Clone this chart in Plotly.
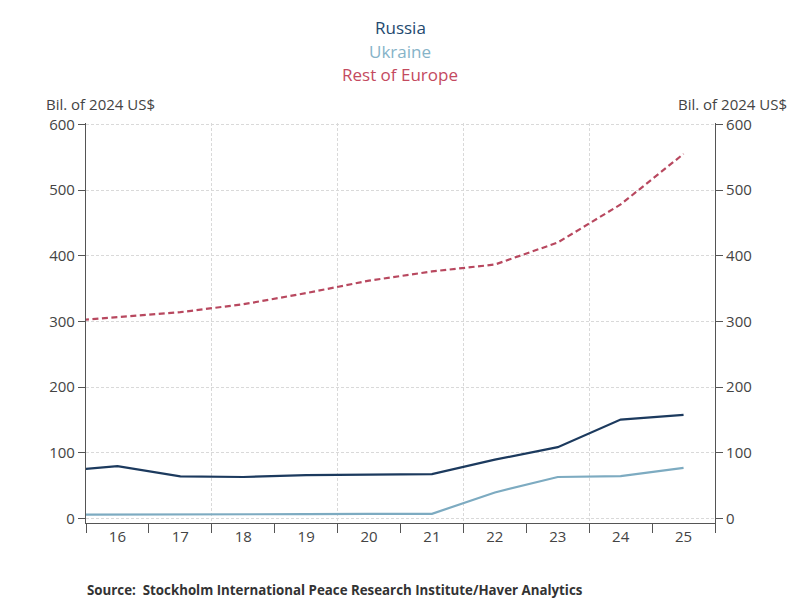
import plotly.graph_objects as go

years = [2015, 2016, 2017, 2018, 2019, 2020, 2021, 2022, 2023, 2024, 2025]
year_labels = ["16", "17", "18", "19", "20", "21", "22", "23", "24", "25"]

russia = [71.5, 79.5, 64, 63, 66, 67, 67.5, 89.5, 108.5, 150.5, 157.5]
ukraine = [5.5, 5.5, 5.5, 5.5, 6.5, 7, 7, 39.5, 63, 64.5, 77]
rest_of_europe = [299, 306, 314, 326, 343, 362, 376, 386.5, 420, 478, 555]

series_names = ["Russia", "Ukraine", "Rest of Europe"]
line_colors = ["#1c3a5e", "#7dabc1", "#b8485f"]
title_colors = ["#24496f", "#86b3c8", "#c44a5f"]

FONT = "Open Sans"
AXIS_COLOR = "#555555"
TEXT_COLOR = "#444444"
GRID_COLOR = "#d9d9d9"

# page body has an 8px margin, so lay things out in screen pixels and shift
OFF = 8
W, H = 800, 600
PLOT_L, PLOT_R, PLOT_T, PLOT_B = 86, 715, 123, 523  # screen pixels

margin = dict(l=PLOT_L - OFF, r=W - (PLOT_R - OFF), t=PLOT_T - OFF, b=H - (PLOT_B - OFF))
plot_w = PLOT_R - PLOT_L
plot_h = PLOT_B - PLOT_T


def px_x(sx):
    return (sx - PLOT_L) / plot_w


def px_y(sy):
    return (PLOT_B - sy) / plot_h


fig = go.Figure()

fig.add_trace(go.Scatter(x=years, y=russia, name="Russia", mode="lines",
                         line=dict(color=line_colors[0], width=2.2)))
fig.add_trace(go.Scatter(x=years, y=ukraine, name="Ukraine", mode="lines",
                         line=dict(color=line_colors[1], width=2.2)))
fig.add_trace(go.Scatter(x=years, y=rest_of_europe, name="Rest of Europe", mode="lines",
                         line=dict(color=line_colors[2], width=2.2, dash="6px,3.5px")))

# invisible trace so the overlay axes (right y axis, vertical grid) get drawn
fig.add_trace(go.Scatter(x=years, y=russia, xaxis="x2", yaxis="y2", mode="lines",
                         line=dict(color="rgba(0,0,0,0)"), hoverinfo="skip", showlegend=False))

x_range = [2015.5, 2025.5]
y_range = [-7, 602]

fig.update_layout(
    width=W, height=H,
    margin=margin,
    paper_bgcolor="white", plot_bgcolor="white",
    showlegend=False,
    font=dict(family=FONT, size=14, color=TEXT_COLOR),
    xaxis=dict(
        range=x_range, tickmode="array", tickvals=years[1:], ticktext=year_labels,
        ticks="", showgrid=False, zeroline=False,
        showline=True, linecolor=AXIS_COLOR, linewidth=1.2,
        tickfont=dict(size=15, color=TEXT_COLOR),
        minor=dict(tickmode="linear", tick0=2015.5, dtick=1, ticks="outside",
                   ticklen=9, tickcolor=AXIS_COLOR, tickwidth=1.2, showgrid=False),
    ),
    xaxis2=dict(
        range=x_range, overlaying="x", anchor="y", tickmode="linear", tick0=2015.5, dtick=2,
        showgrid=True, gridcolor=GRID_COLOR, griddash="3px,2px", gridwidth=1,
        showticklabels=False, ticks="", zeroline=False, showline=False,
    ),
    yaxis=dict(
        range=y_range, tickmode="linear", tick0=0, dtick=100,
        showgrid=True, gridcolor=GRID_COLOR, griddash="3px,2px", gridwidth=1,
        zeroline=False, showline=True, linecolor=AXIS_COLOR, linewidth=1.2,
        ticks="outside", ticklen=7, tickcolor=AXIS_COLOR, tickwidth=1.2,
        tickfont=dict(size=15, color=TEXT_COLOR),
    ),
    yaxis2=dict(
        range=y_range, overlaying="y", side="right", anchor="x", tickmode="linear", tick0=0, dtick=100,
        showgrid=False, zeroline=False, showline=True, linecolor=AXIS_COLOR, linewidth=1.2,
        ticks="outside", ticklen=7, tickcolor=AXIS_COLOR, tickwidth=1.2,
        tickfont=dict(size=15, color=TEXT_COLOR),
    ),
)

# stacked title acting as legend
for name, color, sy in zip(series_names, title_colors, [27, 51, 75]):
    fig.add_annotation(text=name, x=px_x(400), xref="paper", y=px_y(sy), yref="paper",
                       yanchor="middle", showarrow=False,
                       font=dict(size=17, color=color, family=FONT))

fig.add_annotation(text="Bil. of 2024 US$", x=px_x(44), xref="paper", xanchor="left",
                   y=px_y(104), yref="paper", yanchor="middle",
                   showarrow=False, font=dict(size=15, color=TEXT_COLOR))
fig.add_annotation(text="Bil. of 2024 US$", x=px_x(789), xref="paper", xanchor="right",
                   y=px_y(104), yref="paper", yanchor="middle",
                   showarrow=False, font=dict(size=15, color=TEXT_COLOR))
fig.add_annotation(text="<b>Source:  Stockholm International Peace Research Institute/Haver Analytics</b>",
                   x=px_x(85), xref="paper", xanchor="left",
                   y=px_y(590), yref="paper", yanchor="middle",
                   showarrow=False, font=dict(size=13.3, color="#333333"))

fig.write_html("out.html")
